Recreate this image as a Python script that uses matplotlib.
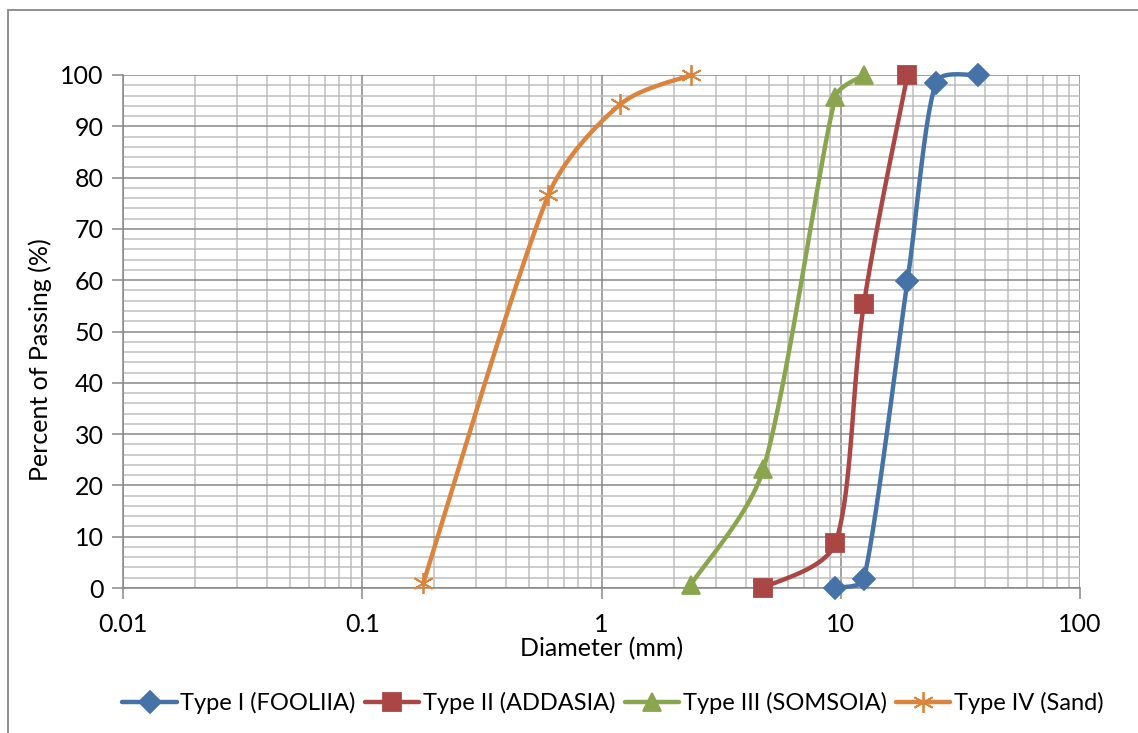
import matplotlib.pyplot as plt
import matplotlib.ticker as mticker
import numpy as np
from matplotlib.lines import Line2D
from matplotlib.patches import Rectangle

plt.rcParams['font.family'] = ['Lato', 'DejaVu Sans']

# sieve analysis results: diameter (mm) vs percent passing
d_type1 = [9.5, 12.5, 19, 25, 37.5]
p_type1 = [0, 1.8, 59.8, 98.5, 100]

d_type2 = [4.75, 9.5, 12.5, 19]
p_type2 = [0, 8.8, 55.4, 100]

d_type3 = [2.36, 4.75, 9.5, 12.5]
p_type3 = [0.6, 23.2, 95.7, 100]

d_type4 = [0.18, 0.6, 1.2, 2.36]
p_type4 = [1.0, 76.6, 94.3, 100]

labels = ['Type I (FOOLIIA)', 'Type II (ADDASIA)', 'Type III (SOMSOIA)', 'Type IV (Sand)']
colors = ['#4573A7', '#AA4643', '#89A54E', '#DB843D']
markers = ['D', 's', '^', (6, 2, 0)]
msizes = [11, 13, 13, 15]

W, H = 1138, 733
fig = plt.figure(figsize=(W / 100, H / 100), dpi=100)
ax = fig.add_axes([123 / W, 1 - 588 / H, (1080 - 123) / W, (588 - 75) / H])

# pixels per decade / per percent, so the smoothing is done on screen geometry
sx = (1080 - 123) / 4.0
sy = (588 - 75) / 100.0


def smooth(xs, ys, n=40):
    # bezier through the points, tangents capped so short segments don't overshoot
    px = np.log10(xs) * sx
    py = np.array(ys, dtype=float) * sy
    pts = np.column_stack([px, py])
    out = [pts[0]]
    k = len(pts)
    for i in range(k - 1):
        p0 = pts[i - 1] if i > 0 else pts[i]
        p1 = pts[i]
        p2 = pts[i + 1]
        p3 = pts[i + 2] if i + 2 < k else pts[i + 1]
        seglen = np.hypot(*(p2 - p1))
        t1 = (p2 - p0) / 6.0
        t2 = (p3 - p1) / 6.0
        for tv in (t1, t2):
            ln = np.hypot(*tv)
            if ln > seglen / 3.0:
                tv *= (seglen / 3.0) / ln
        c1 = p1 + t1
        c2 = p2 - t2
        t = np.linspace(0, 1, n)[1:, None]
        seg = ((1 - t) ** 3) * p1 + 3 * ((1 - t) ** 2) * t * c1 + 3 * (1 - t) * t ** 2 * c2 + t ** 3 * p2
        out.extend(seg)
    out = np.array(out)
    return 10 ** (out[:, 0] / sx), out[:, 1] / sy


series = [(d_type1, p_type1), (d_type2, p_type2), (d_type3, p_type3), (d_type4, p_type4)]
handles = []
for (d, p), lab, c, m, ms in zip(series, labels, colors, markers, msizes):
    xs, ys = smooth(d, p)
    ax.plot(xs, ys, color=c, lw=3.2, solid_capstyle='round', zorder=3, clip_on=False)
    ax.plot(d, p, ls='none', marker=m, ms=ms, color=c, markeredgecolor=c,
            markeredgewidth=1.3, zorder=4, clip_on=False)
    handles.append(Line2D([], [], color=c, lw=3.2, marker=m, ms=ms, markeredgecolor=c,
                          markeredgewidth=1.3, solid_capstyle='round'))

ax.set_xscale('log')
ax.set_xlim(0.01, 100)
ax.set_ylim(0, 100)
ax.set_xticks([0.01, 0.1, 1, 10, 100])
ax.set_xticklabels(['0.01', '0.1', '1', '10', '100'])
ax.set_yticks(np.arange(0, 101, 10))
ax.set_yticks(np.arange(0, 101, 2), minor=True)
ax.xaxis.set_minor_locator(mticker.LogLocator(base=10, subs=np.arange(2, 10)))
ax.xaxis.set_minor_formatter(mticker.NullFormatter())

ax.grid(which='major', color='#878787', lw=1.1)
ax.grid(which='minor', color='#BEBEBE', lw=1.1)
ax.set_axisbelow(True)

for s in ['top', 'right']:
    ax.spines[s].set_visible(False)
for s in ['left', 'bottom']:
    ax.spines[s].set_color('#878787')
    ax.spines[s].set_linewidth(1.1)

ax.tick_params(which='major', length=8, width=1.1, color='#878787', labelsize=18, pad=6)
ax.tick_params(which='minor', length=0)
ax.tick_params(axis='x', pad=10)

ax.set_xlabel('Diameter (mm)', fontsize=18, va='center')
ax.xaxis.set_label_coords(0.5, -0.118)
ax.set_ylabel('Percent of Passing (%)', fontsize=18, va='center')
ax.yaxis.set_label_coords(-0.087, 0.446)

fig.legend(handles, labels, loc='center', bbox_to_anchor=(613 / W, 1 - 703 / H), ncol=4,
           frameon=False, fontsize=17, handlelength=2.3, handletextpad=0.15, columnspacing=0.4)

# outer chart frame
fig.patches.append(Rectangle((8 / W, -0.05), 1.2, 1 - 10 / H + 0.05, transform=fig.transFigure,
                             fill=False, edgecolor='#878787', lw=1.3))

fig.savefig('out.png', dpi=100)
